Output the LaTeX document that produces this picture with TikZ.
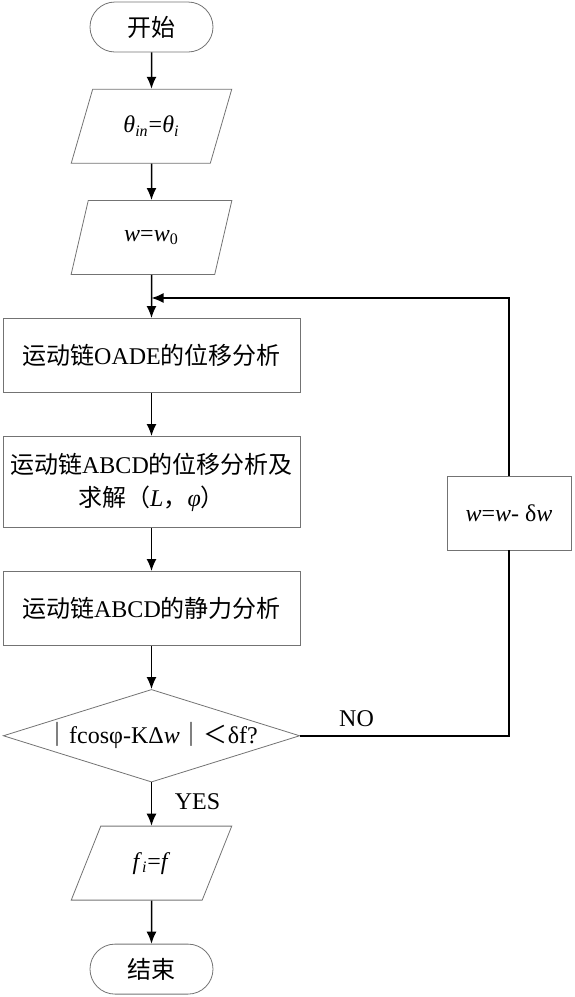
\documentclass[tikz,border=0pt]{standalone}
\usepackage{fontspec}
\setmainfont{Liberation Serif}
\newfontfamily\cjk{Noto Sans CJK SC}
\newcommand{\zh}[1]{{\cjk #1}}
\usetikzlibrary{shapes.geometric,arrows.meta,positioning}

\begin{document}
\begin{tikzpicture}[x=0.5pt, y=-0.5pt, node distance=21.6pt,
  font=\fontsize{12}{16.5}\selectfont,
  terminal/.style={draw=black!55, rounded corners=12.5pt, minimum width=61.5pt, minimum height=25pt},
  io/.style={draw=black!55, trapezium, trapezium left angle=63.4, trapezium right angle=116.6,
    trapezium stretches=true, minimum width=80.5pt, minimum height=37pt, inner sep=0pt},
  process/.style={draw=black!55, minimum width=148.5pt, minimum height=37pt, align=center},
  decision/.style={draw=black!55, diamond, aspect=3.2, minimum width=147pt, minimum height=45.5pt, inner sep=0pt},
  flow/.style={-{Latex[length=6pt,width=5pt]}, line width=0.75pt}]
  \useasboundingbox (0,0) rectangle (574,997);

  \node[terminal] (start) at (151.5,27) {\zh{开始}};
  \node[io, below=18.2pt of start] (theta) {\textit{θ}\textsubscript{\textit{in}}=\textit{θ}\textsubscript{\textit{i}}};
  \node[io, below=18.2pt of theta] (winit) {\textit{w}=\textit{w}\textsubscript{0}};
  \node[process, below=of winit] (oade) {\zh{运动链}OADE\zh{的位移分析}};
  \node[process, minimum height=45.5pt, below=of oade] (abcd) {\zh{运动链}ABCD\zh{的位移分析及}\\\zh{求解（}\textit{L}\zh{，}\textit{φ}\zh{）}};
  \node[process, below=of abcd] (statics) {\zh{运动链}ABCD\zh{的静力分析}};
  \node[decision, below=of statics] (check) {\zh{｜}fcosφ-KΔ\textit{w}\zh{｜＜}δf?};
  \node[io, below=of check] (fi) {\textit{f}\textsubscript{\textit{i}}=\textit{f}};
  \node[terminal, below=of fi] (stop) {\zh{结束}};

  \node[process, minimum width=62pt] (update) at (509,513) {\textit{w}=\textit{w}- δ\textit{w}};
  \coordinate (merge) at (151.5,298);

  \draw[flow] (start) -- (theta);
  \draw[flow] (theta) -- (winit);
  \draw[flow] (winit) -- (oade);
  \draw[flow] (oade) -- (abcd);
  \draw[flow] (abcd) -- (statics);
  \draw[flow] (statics) -- (check);
  \draw[flow] (check) -- node[right, pos=0.44, xshift=8pt] {YES} (fi);
  \draw[flow] (fi) -- (stop);

  % loop back
  \draw[line width=0.75pt] (check.east) -- node[above, pos=0.27, yshift=1pt] {NO} (check.east -| update) -- (update.south);
  \draw[flow] (update.north) |- (merge);
\end{tikzpicture}
\end{document}
